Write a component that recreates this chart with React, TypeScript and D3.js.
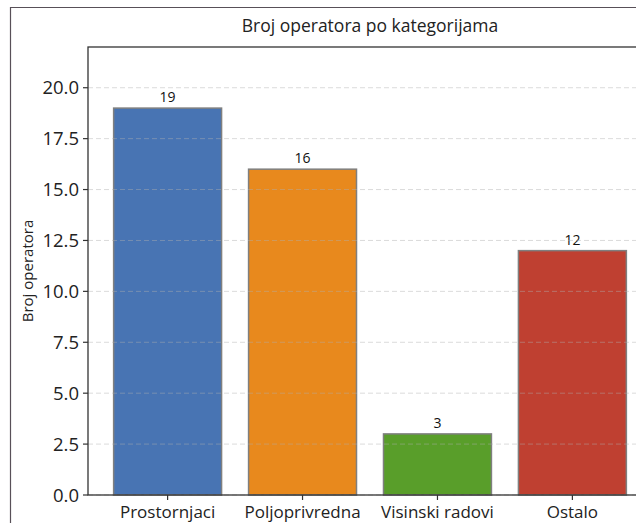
import React from 'react';
import * as d3 from 'd3';

const categories = ['Prostornjaci', 'Poljoprivredna', 'Visinski radovi', 'Ostalo'];
const counts = [19, 16, 3, 12];
const barColors = ['#4874b3', '#e8891d', '#599e2a', '#bf4031'];
const yTicks = [0, 2.5, 5, 7.5, 10, 12.5, 15, 17.5, 20];

const width = 636;
const height = 523;
const margin = { top: 47, left: 88, bottom: 28 };
const plotRight = 652; // right spine sits outside the visible window
const font = '"Open Sans", sans-serif';

export default function App() {
  const bottom = height - margin.bottom;

  // matplotlib-like x: bars at 0..3, width 0.8, 5% margins
  const xScale = d3.scaleLinear().domain([-0.59, 3.59]).range([margin.left, plotRight]);
  const yScale = d3.scaleLinear().domain([0, 22]).range([bottom, margin.top]);
  const barW = xScale(0.4) - xScale(-0.4);

  return (
    <svg width={width} height={height} style={{ position: 'absolute', left: 0, top: 0 }}>
      <rect x={0} y={0} width={width} height={height} fill="#fff" />
      {/* outer frame */}
      <path d={`M10.5,${height + 5} V7.5 H${width + 5}`} fill="none" stroke="#585058" strokeWidth={1.2} />

      <text x={(margin.left + plotRight) / 2} y={32} textAnchor="middle" fontFamily={font} fontSize={17.5} fill="#222">
        Broj operatora po kategorijama
      </text>

      {categories.map((c, i) => (
        <g key={c}>
          <rect
            x={xScale(i) - barW / 2}
            y={yScale(counts[i])}
            width={barW}
            height={bottom - yScale(counts[i])}
            fill={barColors[i]}
            stroke="#7f7f7f"
            strokeWidth={1.5}
          />
          <text x={xScale(i)} y={yScale(counts[i]) - 6} textAnchor="middle" fontFamily={font} fontSize={14} fill="#111">
            {counts[i]}
          </text>
        </g>
      ))}

      {/* grid */}
      {yTicks.map(t => (
        <line key={t} x1={margin.left} x2={plotRight} y1={yScale(t)} y2={yScale(t)}
          stroke="#b0b0b0" strokeOpacity={0.45} strokeDasharray="5,3" strokeWidth={1} />
      ))}

      {/* spines */}
      <rect x={margin.left} y={margin.top} width={plotRight - margin.left} height={bottom - margin.top}
        fill="none" stroke="#333" strokeWidth={1.3} />

      {/* y ticks */}
      {yTicks.map(t => (
        <g key={t} transform={`translate(${margin.left},${yScale(t)})`}>
          <line x1={-5} x2={0} stroke="#333" strokeWidth={1.2} />
          <text x={-9} dy="0.36em" textAnchor="end" fontFamily={font} fontSize={18.5} fill="#222">
            {t.toFixed(1)}
          </text>
        </g>
      ))}

      {/* x ticks */}
      {categories.map((c, i) => (
        <g key={c} transform={`translate(${xScale(i)},${bottom})`}>
          <line y1={0} y2={5} stroke="#333" strokeWidth={1.2} />
          <text y={22.5} textAnchor="middle" fontFamily={font} fontSize={17} fill="#222">{c}</text>
        </g>
      ))}

      <text transform={`translate(33,${(margin.top + bottom) / 2}) rotate(-90)`} textAnchor="middle"
        fontFamily={font} fontSize={15} fill="#222">
        Broj operatora
      </text>
    </svg>
  );
}
